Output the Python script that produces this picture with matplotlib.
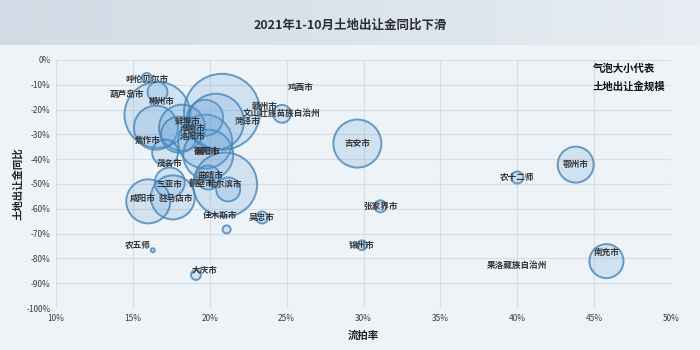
import numpy as np
import matplotlib.pyplot as plt
from matplotlib.colors import LinearSegmentedColormap
from matplotlib.ticker import FuncFormatter, MultipleLocator

plt.rcParams['font.family'] = ['Noto Sans CJK SC', 'DejaVu Sans']

# 城市 / 流拍率(%) / 土地出让金同比(%) / 土地出让金规模(亿元)
cities = ['呼伦贝尔市', '葫芦岛市', '郴州市', '焦作市', '蚌埠市', '淮南市', '洛阳市',
          '襄阳市', '衡阳市', '赣州市', '菏泽市', '茂名市', '曲靖市', '鹤壁市',
          '哈尔滨市', '三亚市', '驻马店市', '咸阳市', '佳木斯市', '吴忠市', '农五师',
          '大庆市', '锦州市', '张家界市', '吉安市', '农十二师', '鄂州市', '南充市',
          '果洛藏族自治州', '鸡西市', '文山壮族苗族自治州']
fail_rate = [15.9, 16.6, 16.6, 16.5, 18.2, 18.0, 19.7,
             19.9, 19.7, 20.8, 20.4, 17.1, 19.9, 21.2,
             21.0, 17.4, 17.6, 16.0, 21.1, 23.4, 16.3,
             19.1, 29.9, 31.1, 29.6, 40.0, 43.8, 45.8,
             40.0, 25.9, 24.7]
yoy = [-7.2, -12.9, -22.1, -27.3, -27.3, -30.1, -32.9,
       -38.2, -23.3, -20.9, -24.9, -37.3, -47.4, -52.2,
       -50.2, -49.4, -55.4, -57.0, -68.3, -63.5, -76.7,
       -86.7, -74.7, -59.0, -33.7, -47.4, -42.2, -81.1,
       -82.7, -11.2, -21.7]
scale = [12, 50, 545, 242, 265, 162, 365,
         312, 162, 722, 392, 85, 72, 72,
         512, 112, 242, 242, 8, 18, 2,
         12, 12, 18, 288, 18, 162, 145,
         0.5, 0.5, 40]

# label shifts in points, for labels not sitting on the bubble centre
label_shift = {
    '呼伦贝尔市': (0, -1.5), '葫芦岛市': (-22, -1.5), '郴州市': (3, 10),
    '焦作市': (-6, -9), '蚌埠市': (4, 4.5), '淮南市': (10, 4.5), '洛阳市': (-9, 3.5),
    '襄阳市': (0, 2), '衡阳市': (1.5, -24), '赣州市': (31, 4), '菏泽市': (23, 0),
    '茂名市': (3.6, -8), '曲靖市': (1.5, 1.5), '鹤壁市': (-19, 4),
    '三亚市': (0, -1.5), '驻马店市': (2, -1), '咸阳市': (-4, 2),
    '佳木斯市': (-5, 10), '农五师': (-11, 3.6), '大庆市': (6, 3.6),
    '南充市': (0, 6.5),
}

bg = '#eef3f7'
fig = plt.figure(figsize=(7, 3.5), dpi=100, facecolor=bg)

# title band with a soft gradient
band = fig.add_axes([0, 0.871, 1, 0.129])
grad = np.linspace(0, 1, 256).reshape(1, -1)
cmap = LinearSegmentedColormap.from_list('band', ['#d0dbe5', '#dbe4ec', '#e7edf2'])
band.imshow(grad, aspect='auto', cmap=cmap, extent=[0, 1, 0, 1])
band.set_axis_off()
fig.text(0.5, 0.929, '2021年1-10月土地出让金同比下滑', ha='center', va='center',
         fontsize=9, fontweight='bold', color='#2b2f33')

ax = fig.add_axes([0.08, 0.12, 0.8786, 0.7086])
ax.set_facecolor(bg)
ax.set_xlim(10, 50)
ax.set_ylim(-100, 0)
ax.xaxis.set_major_locator(MultipleLocator(5))
ax.yaxis.set_major_locator(MultipleLocator(10))
ax.xaxis.set_major_formatter(FuncFormatter(lambda v, p: '%d%%' % round(v)))
ax.yaxis.set_major_formatter(FuncFormatter(lambda v, p: '%d%%' % round(v)))
ax.grid(True, color='#d6dde4', linewidth=0.8)
ax.set_axisbelow(True)
for s in ax.spines.values():
    s.set_visible(False)
ax.tick_params(length=0, labelsize=6, colors='#3a3f44', pad=4)

sizes = np.array(scale) * 4.15
ax.scatter(fail_rate, yoy, s=sizes, facecolor=(0.357, 0.608, 0.835, 0.2),
           edgecolor=(0.27, 0.52, 0.72, 0.8), linewidth=1.4, zorder=3)

for name, x, y in zip(cities, fail_rate, yoy):
    dx, dy = label_shift.get(name, (0, 0))
    ax.annotate(name, (x, y), xytext=(dx, dy), textcoords='offset points',
                ha='center', va='center', fontsize=6.2, fontweight='bold',
                color='#33373b', zorder=4)

ax.text(0.873, 0.985, '气泡大小代表\n土地出让金规模', transform=ax.transAxes,
        ha='left', va='top', fontsize=7.5, fontweight='bold', color='#111',
        linespacing=1.8)

ax.set_xlabel('流拍率', fontsize=7.5, fontweight='bold', color='#222', labelpad=6)
ax.set_ylabel('土地出让金同比', fontsize=7.5, fontweight='bold', color='#222', labelpad=2)

fig.savefig('out.png', dpi=100, facecolor=bg)
